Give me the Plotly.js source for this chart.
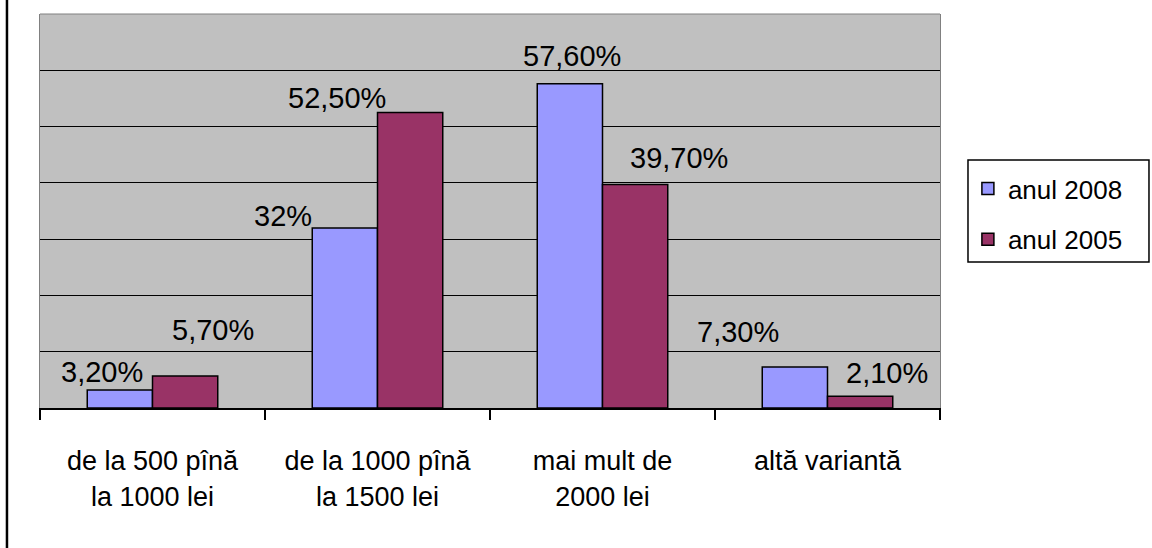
<!DOCTYPE html>
<html>
<head>
<meta charset="utf-8">
<script src="https://cdn.plot.ly/plotly-3.0.1.min.js"></script>
<style>
  html, body { margin: 0; padding: 0; background: #ffffff; }
  #chart { width: 1152px; height: 548px; }
</style>
</head>
<body>
<div id="chart"></div>
<script>
// ---- Data ----
const categories = [
  "de la 500 pînă<br>la 1000 lei",
  "de la 1000 pînă<br>la 1500 lei",
  "mai mult de<br>2000 lei",
  "altă variantă"
];
const seriesNames = ["anul 2008", "anul 2005"];
const values2008 = [3.2, 32, 57.6, 7.3];
const values2005 = [5.7, 52.5, 39.7, 2.1];
const gridValues = [10, 20, 30, 40, 50, 60];

// ---- Styling ----
const colors = ["#9999FF", "#993366"];
const FONT = "'Liberation Sans', Arial, sans-serif";
// label offsets (px) relative to category centre / bar top, per series
const labelShift = [
  [[-51, 18], [-95, 12], [-31, 28], [-90, 35]],
  [[60, 46], [-41, 15], [76, 27], [59, 23]]
];

function fmt(v) {
  if (Math.abs(v - Math.round(v)) < 1e-9) return Math.round(v) + "%";
  return v.toFixed(2).replace(".", ",") + "%";
}

const allValues = [values2008, values2005];
const traces = allValues.map((vals, i) => ({
  type: "bar",
  name: seriesNames[i],
  x: categories,
  y: vals,
  legendgroup: "g" + i,
  marker: { color: colors[i], line: { color: "#000000", width: 1.5 } },
  hoverinfo: "skip"
}));

const annotations = [];
allValues.forEach((vals, s) => {
  vals.forEach((v, c) => {
    annotations.push({
      x: categories[c], y: v, xref: "x", yref: "y",
      text: fmt(v), showarrow: false,
      xanchor: "center", yanchor: "middle",
      xshift: labelShift[s][c][0], yshift: labelShift[s][c][1],
      font: { family: FONT, size: 29, color: "#000000" }
    });
  });
});

const layout = {
  width: 1152, height: 548,
  margin: { l: 40, r: 212, t: 14, b: 140 },
  paper_bgcolor: "#ffffff",
  plot_bgcolor: "#C0C0C0",
  font: { family: FONT, color: "#000000" },
  barmode: "group",
  bargap: 0.42,
  bargroupgap: 0,
  showlegend: true,
  legend: {
    x: 1.031, y: 0.6168, xanchor: "left", yanchor: "top",
    bgcolor: "rgba(0,0,0,0)", borderwidth: 0,
    font: { family: FONT, size: 26, color: "#000000" },
    tracegroupgap: 14,
    traceorder: "grouped"
  },
  xaxis: {
    type: "category",
    showline: true, linecolor: "#000000", linewidth: 2,
    ticks: "outside", tickson: "boundaries", ticklen: 10,
    tickcolor: "#000000", tickwidth: 1.5,
    ticklabelstandoff: 28,
    tickfont: { family: FONT, size: 27, color: "#000000" },
    showgrid: false, zeroline: false, fixedrange: true
  },
  yaxis: {
    range: [0, 70],
    tickmode: "array", tickvals: gridValues,
    showticklabels: false, ticks: "",
    showgrid: true, gridcolor: "#000000", gridwidth: 1,
    showline: true, linecolor: "#808080", linewidth: 1, mirror: true,
    zeroline: false, fixedrange: true
  },
  shapes: [
    { type: "line", xref: "paper", yref: "paper", x0: 0, x1: 1, y0: 1, y1: 1,
      line: { color: "#808080", width: 1 } },
    { type: "line", xref: "paper", yref: "paper",
      x0: -0.0367, x1: -0.0367, y0: -0.36, y1: 1.04,
      line: { color: "#000000", width: 2.5 } },
    { type: "rect", xref: "paper", yref: "paper",
      x0: 1.0311, x1: 1.2322, y0: 0.3706, y1: 0.6294,
      fillcolor: "rgba(0,0,0,0)", line: { color: "#000000", width: 1.5 } }
  ],
  annotations: annotations
};

Plotly.newPlot("chart", traces, layout, { displayModeBar: false, staticPlot: true });
</script>
</body>
</html>
